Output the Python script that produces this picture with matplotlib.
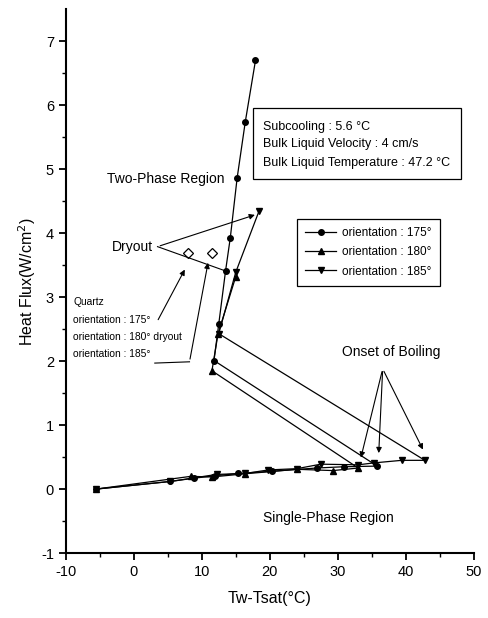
import numpy as np
import matplotlib
matplotlib.use("Agg")
import matplotlib.pyplot as plt
from matplotlib.patches import Rectangle

plt.rcParams['font.family'] = ['Liberation Sans', 'DejaVu Sans']
plt.rcParams['axes.unicode_minus'] = False

# orientation 175 (circles): single-phase branch, then two-phase branch
x175 = [-5.6, 5.4, 8.8, 12.0, 15.4, 20.4, 26.9, 30.9, 35.8,
        11.8, 12.5, 13.5, 14.2, 15.2, 16.4, 17.9]
y175 = [0.0, 0.12, 0.17, 0.21, 0.245, 0.28, 0.33, 0.35, 0.36,
        2.01, 2.58, 3.41, 3.93, 4.86, 5.74, 6.70]

# orientation 180 (up triangles)
x180 = [-5.6, 8.4, 11.5, 16.4, 24.0, 29.3, 33.0,
        11.5, 12.4, 15.0]
y180 = [0.0, 0.20, 0.19, 0.24, 0.31, 0.29, 0.33,
        1.85, 2.43, 3.32]

# orientation 185 (down triangles)
x185 = [-5.6, 5.4, 12.2, 16.4, 19.8, 24.0, 27.5, 33.0, 35.3, 39.4, 42.8,
        12.5, 15.0, 18.4]
y185 = [0.0, 0.12, 0.23, 0.245, 0.30, 0.32, 0.39, 0.38, 0.41, 0.45, 0.45,
        2.43, 3.39, 4.34]

# quartz dryout points
xq = [8.0, 11.5]
yq = [3.69, 3.69]

labels = ["orientation : 175°", "orientation : 180°", "orientation : 185°"]
conditions = ["Subcooling : 5.6 °C", "Bulk Liquid Velocity : 4 cm/s",
              "Bulk Liquid Temperature : 47.2 °C"]

fig = plt.figure(figsize=(4.88, 6.18), dpi=100)
ax = fig.add_axes([0.1346, 0.105, 0.8364, 0.88])

kw = dict(color="black", lw=0.9, ms=4)
ax.plot(x175, y175, marker="o", label=labels[0], **kw)
ax.plot(x180, y180, marker="^", label=labels[1], **kw)
ax.plot(x185, y185, marker="v", label=labels[2], **kw)
ax.plot(xq, yq, ls="none", marker="D", ms=5, mfc="white", mec="black", mew=0.9)

ax.set_xlim(-10, 50)
ax.set_ylim(-1, 7.5)
ax.set_xticks(np.arange(-10, 51, 10))
ax.set_yticks(np.arange(-1, 8, 1))
ax.set_xticks(np.arange(-5, 50, 10), minor=True)
ax.set_yticks(np.arange(-0.5, 7.5, 1), minor=True)
ax.tick_params(which="major", direction="out", length=5, width=1.3, labelsize=10.5)
ax.tick_params(which="minor", direction="out", length=3, width=1.0)
ax.spines['top'].set_visible(False)
ax.spines['right'].set_visible(False)
ax.spines['left'].set_linewidth(1.5)
ax.spines['bottom'].set_linewidth(1.5)

ax.set_xlabel("Tw-Tsat(°C)", fontsize=11.5, labelpad=9)
ax.set_ylabel("Heat Flux(W/cm$^2$)", fontsize=11.5, labelpad=2)

leg = ax.legend(loc="upper left", bbox_to_anchor=(0.552, 0.625), fontsize=8.5,
                handlelength=2.6, fancybox=False, edgecolor="black",
                framealpha=1, borderpad=0.7, labelspacing=0.6, handletextpad=0.5)
leg.get_frame().set_linewidth(0.9)

# condition box
ax.add_patch(Rectangle((17.5, 4.84), 30.6, 1.12, fill=False, ec="black", lw=0.9))
for txt, yy in zip(conditions, [5.66, 5.40, 5.09]):
    ax.text(19.06, yy, txt, fontsize=9, va="center", ha="left")

ax.text(-4.0, 4.84, "Two-Phase Region", fontsize=10, va="center")
ax.text(19.0, -0.45, "Single-Phase Region", fontsize=10, va="center")
ax.text(30.6, 2.15, "Onset of Boiling", fontsize=10, va="center")
ax.text(-3.2, 3.79, "Dryout", fontsize=10, va="center")

ax.text(-8.9, 2.92, "Quartz", fontsize=7.4, va="center")
ax.text(-8.9, 2.65, "orientation : 175°", fontsize=7.4, va="center")
ax.text(-8.9, 2.38, "orientation : 180° dryout", fontsize=7.4, va="center")
ax.text(-8.9, 2.11, "orientation : 185°", fontsize=7.4, va="center")

arr = dict(arrowstyle="-|>", color="black", lw=0.8, mutation_scale=8)
# dryout
ax.annotate("", xy=(18.2, 4.30), xytext=(3.5, 3.79), arrowprops=arr)
ax.plot([3.5, 13.5], [3.79, 3.41], color="black", lw=0.8)
# quartz arrows
ax.annotate("", xy=(7.7, 3.47), xytext=(3.4, 2.61), arrowprops=arr)
ax.plot([3.1, 8.2], [1.97, 1.99], color="black", lw=0.8)
ax.annotate("", xy=(11.0, 3.58), xytext=(8.2, 1.99), arrowprops=arr)
# onset of boiling
for tip in [(33.3, 0.45), (36.0, 0.52), (42.7, 0.58)]:
    ax.annotate("", xy=tip, xytext=(36.6, 1.88), arrowprops=arr)

fig.savefig("out.png", dpi=100)
